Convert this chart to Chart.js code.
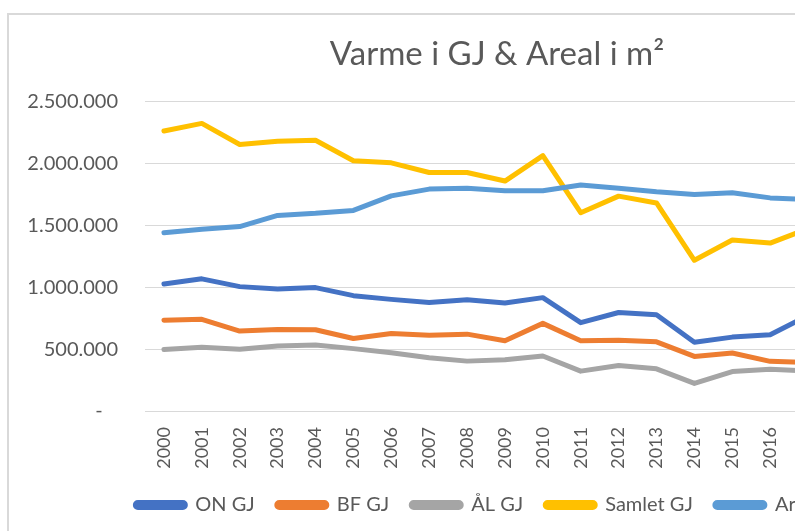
<!DOCTYPE html>
<html>
<head>
<meta charset="utf-8">
<script src="https://cdn.jsdelivr.net/npm/chart.js@4.4.1/dist/chart.umd.min.js"></script>
<style>
  html, body { margin: 0; padding: 0; background: #fff; overflow: hidden; width: 795px; height: 531px; }
  #ramme { position: absolute; left: 7px; top: 13px; width: 976px; height: 516px; border-left: 2px solid #d9d9d9; border-top: 2px solid #d9d9d9; }
  #graf { display: block; width: 976px; height: 516px; }
</style>
</head>
<body>
<div id="ramme"><canvas id="graf" width="976" height="516"></canvas></div>
<script>
// data (GJ og m2)
const aar = ['2000','2001','2002','2003','2004','2005','2006','2007','2008','2009','2010','2011','2012','2013','2014','2015','2016','2017']
const on_gj = [1027000,1068000,1005000,986000,997000,932000,902000,877000,899000,872000,916000,714000,796000,777000,556000,597000,616000,771000]
const bf_gj = [733000,741000,646000,659000,657000,586000,627000,613000,621000,567000,708000,567000,572000,559000,441000,469000,401000,392000]
const al_gj = [496000,515000,499000,526000,534000,504000,470000,431000,403000,414000,444000,322000,368000,341000,223000,319000,338000,324000]
const samlet_gj = [2262000,2324000,2153000,2180000,2188000,2022000,2005000,1927000,1927000,1858000,2063000,1602000,1736000,1681000,1218000,1382000,1357000,1474000]
const areal = [1441000,1469000,1490000,1580000,1597000,1621000,1738000,1793000,1799000,1779000,1779000,1826000,1799000,1771000,1750000,1763000,1722000,1709000]

const serier = ['ON GJ', 'BF GJ', 'ÅL GJ', 'Samlet GJ', 'Areal i m²']
const farver = ['#4472C4', '#ED7D31', '#A5A5A5', '#FFC000', '#5B9BD5']
const vaerdier = [on_gj, bf_gj, al_gj, samlet_gj, areal]

const tekstFarve = '#595959'
const skrift = 'Lato'

function tal(v) {
    if (v === 0) return '-   '
    return String(v).replace(/\B(?=(\d{3})+(?!\d))/g, '.')
}

const datasets = serier.map((navn, i) => ({
    label: navn,
    data: vaerdier[i],
    borderColor: farver[i],
    backgroundColor: farver[i],
    borderWidth: 5,
    borderJoinStyle: 'round',
    borderCapStyle: 'round',
    pointRadius: 0,
    tension: 0,
    order: -i
}))

const ctx = document.getElementById('graf').getContext('2d')
const config = {
    type: 'line',
    data: { labels: aar, datasets: datasets },
    options: {
        responsive: false,
        animation: false,
        devicePixelRatio: 1,
        layout: { padding: { left: 0, right: 0, top: 0, bottom: 6 } },
        plugins: {
            tooltip: { enabled: false },
            title: {
                display: true,
                text: 'Varme i GJ & Areal i m²',
                color: tekstFarve,
                font: { family: skrift, size: 33, weight: 'normal' },
                padding: { top: 20, bottom: 27 }
            },
            legend: {
                position: 'bottom',
                labels: {
                    color: tekstFarve,
                    font: { family: skrift, size: 20 },
                    boxWidth: 50,
                    boxHeight: 5,
                    padding: 22,
                    useBorderRadius: true,
                    borderRadius: 2.5,
                    sort: (a, b) => a.datasetIndex - b.datasetIndex
                }
            }
        },
        scales: {
            x: {
                offset: true,
                grid: { display: false, drawTicks: false },
                border: { display: false },
                ticks: {
                    color: tekstFarve,
                    font: { family: skrift, size: 18 },
                    minRotation: 90,
                    maxRotation: 90,
                    padding: 16,
                    autoSkip: false
                },
                afterFit: (s) => { s.height = 62 }
            },
            y: {
                min: 0,
                max: 2500000,
                grid: { color: '#D9D9D9', lineWidth: 1, drawTicks: false },
                border: { display: false },
                ticks: {
                    stepSize: 500000,
                    color: tekstFarve,
                    font: { family: skrift, size: 20 },
                    padding: 27,
                    callback: (v) => tal(v)
                },
                afterFit: (s) => { s.width = 136 }
            },
            // tom akse til højre, holder plotområdet smallere end diagrammet
            hoejre: {
                type: 'linear',
                position: 'right',
                display: true,
                grid: { display: false, drawTicks: false },
                border: { display: false },
                ticks: { display: false },
                afterFit: (s) => { s.width = 158 }
            }
        }
    }
}
const chart = new Chart(ctx, config)
</script>
</body>
</html>
